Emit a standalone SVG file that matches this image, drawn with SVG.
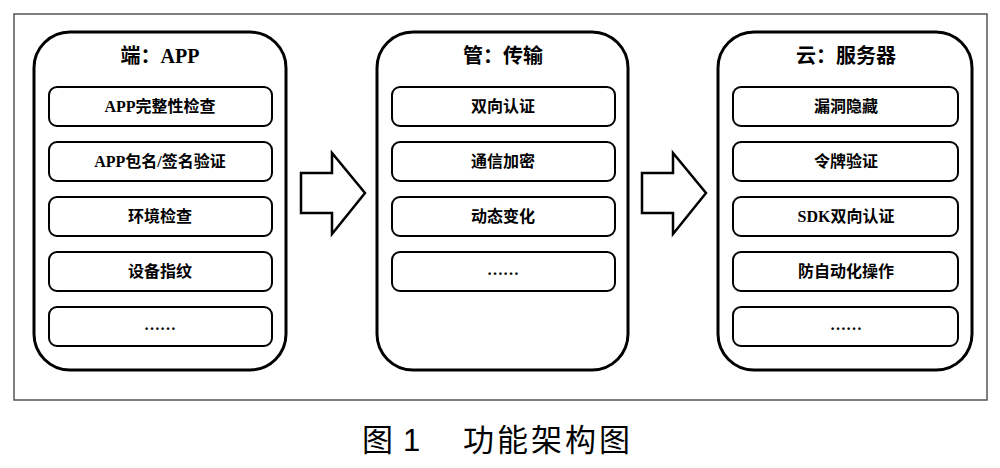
<svg xmlns="http://www.w3.org/2000/svg" width="1000" height="468" viewBox="0 0 1000 468">
<style>
.frame{fill:#fff;stroke:#555;stroke-width:1.5}
.panel{fill:#fff;stroke:#000;stroke-width:3}
.item{fill:#fff;stroke:#000;stroke-width:2}
.arrow{fill:#fff;stroke:#000;stroke-width:2.5;stroke-linejoin:miter}
.title{font-family:"Liberation Serif","Noto Sans CJK SC",serif;font-weight:bold;font-size:20px;text-anchor:middle;fill:#000}
.lbl{font-family:"Liberation Serif","Noto Sans CJK SC",serif;font-weight:bold;font-size:16px;text-anchor:middle;fill:#000}
.cap{font-family:"Liberation Sans","Noto Sans CJK SC",sans-serif;font-size:31px;fill:#000}
</style>
<rect width="1000" height="468" fill="#fff"/>
<rect class="frame" x="14" y="14" width="973" height="386"/>
<g id="connectors">
<path class="arrow" d="M301,173 L332,173 L332,153 L365,193 L332,234 L332,213 L301,213 Z"/>
<path class="arrow" d="M642,173 L673,173 L673,153 L706,193 L673,234 L673,213 L642,213 Z"/>
</g>
<g id="app">
<rect class="panel" x="34" y="32" width="252" height="338" rx="36"/>
<text class="title" x="160" y="63">端：APP</text>
<rect class="item" x="49" y="87" width="223" height="39" rx="8"/>
<text class="lbl" x="160" y="112">APP完整性检查</text>
<rect class="item" x="49" y="142" width="223" height="39" rx="8"/>
<text class="lbl" x="160" y="167">APP包名/签名验证</text>
<rect class="item" x="49" y="197" width="223" height="39" rx="8"/>
<text class="lbl" x="160" y="222">环境检查</text>
<rect class="item" x="49" y="252" width="223" height="39" rx="8"/>
<text class="lbl" x="160" y="277">设备指纹</text>
<rect class="item" x="49" y="307" width="223" height="39" rx="8"/>
<text class="lbl" x="160" y="330">……</text>
</g>
<g id="transport">
<rect class="panel" x="377" y="32" width="251" height="338" rx="36"/>
<text class="title" x="503" y="63">管：传输</text>
<rect class="item" x="392" y="87" width="223" height="39" rx="8"/>
<text class="lbl" x="503" y="112">双向认证</text>
<rect class="item" x="392" y="142" width="223" height="39" rx="8"/>
<text class="lbl" x="503" y="167">通信加密</text>
<rect class="item" x="392" y="197" width="223" height="39" rx="8"/>
<text class="lbl" x="503" y="222">动态变化</text>
<rect class="item" x="392" y="252" width="223" height="39" rx="8"/>
<text class="lbl" x="503" y="275">……</text>
</g>
<g id="server">
<rect class="panel" x="718" y="32" width="254" height="338" rx="36"/>
<text class="title" x="846" y="63">云：服务器</text>
<rect class="item" x="733" y="87" width="225" height="39" rx="8"/>
<text class="lbl" x="846" y="112">漏洞隐藏</text>
<rect class="item" x="733" y="142" width="225" height="39" rx="8"/>
<text class="lbl" x="846" y="167">令牌验证</text>
<rect class="item" x="733" y="197" width="225" height="39" rx="8"/>
<text class="lbl" x="846" y="222">SDK双向认证</text>
<rect class="item" x="733" y="252" width="225" height="39" rx="8"/>
<text class="lbl" x="846" y="277">防自动化操作</text>
<rect class="item" x="733" y="307" width="225" height="39" rx="8"/>
<text class="lbl" x="846" y="330">……</text>
</g>
<g id="caption">
<text class="cap" x="362" y="451">图</text>
<text class="cap" x="403" y="451">1</text>
<text class="cap" x="463" y="451" letter-spacing="3">功能架构图</text>
</g>
</svg>
